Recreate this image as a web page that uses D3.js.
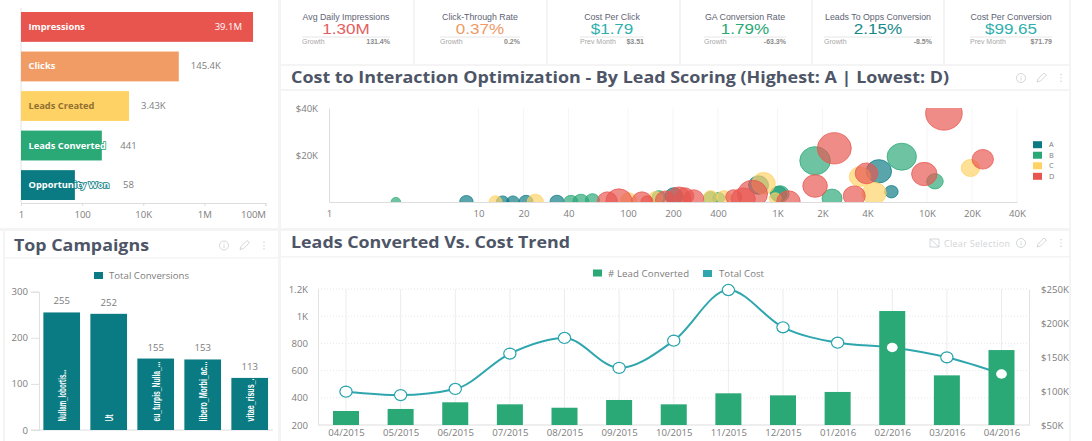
<!DOCTYPE html>
<html>
<head>
<meta charset="utf-8">
<script src="https://cdn.jsdelivr.net/npm/d3@7"></script>
<style>
  html, body { margin: 0; padding: 0; background: #fff; overflow: hidden; }
  svg { display: block; }
  text { font-family: "Open Sans", sans-serif; }
  .tick-label { font-size: 9.6px; fill: #7d7d7d; }
  .panel-title { font-weight: 700; fill: #4d5567; }
  .kpi { font-family: "Liberation Sans", Arial, sans-serif; }
</style>
</head>
<body>
<svg id="chart" width="1092" height="441"></svg>
<script>
//1. Data
const funnelNames = ["Impressions", "Clicks", "Leads Created", "Leads Converted", "Opportunity Won"];
const funnelValues = [39100000, 145400, 3430, 441, 58];
const funnelLabels = ["39.1M", "145.4K", "3.43K", "441", "58"];
const funnelTicks = [1, 100, 10000, 1000000, 100000000];
const funnelTickLabels = ["1", "100", "10K", "1M", "100M"];

const kpiTitles = ["Avg Daily Impressions", "Click-Through Rate", "Cost Per Click", "GA Conversion Rate", "Leads To Opps Conversion", "Cost Per Conversion"];
const kpiValues = ["1.30M", "0.37%", "$1.79", "1.79%", "2.15%", "$99.65"];
const kpiSubLabels = ["Growth", "Growth", "Prev Month", "Growth", "Growth", "Prev Month"];
const kpiSubValues = ["131.4%", "0.2%", "$3.51", "-63.3%", "-8.5%", "$71.79"];

// scatter rows: [interactions, cost, size]
const gradeA = [[8.3, 130, 45], [14.5, 100, 40], [17, 100, 40], [20.8, 100, 49], [33.5, 150, 49], [203, 2550, 81], [747, 7230, 100], [1016, 3400, 69], [4764, 13060, 161], [5781, 4380, 45]];
const gradeB = [[2.8, 100, 22], [41.5, 100, 49], [48.4, 150, 64], [57.8, 800, 49], [161, 2100, 49], [357, 1700, 49], [404, 1700, 36], [1042, 3400, 81], [1784, 17570, 234], [2316, 1570, 100], [6780, 19280, 216], [11300, 8810, 69]];
const gradeC = [[13, 100, 42], [24, 150, 64], [101, 800, 64], [153, 1700, 49], [357, 2100, 49], [437, 2100, 49], [807, 7960, 137], [966, 1570, 36], [3558, 10770, 114], [4433, 3700, 144], [19550, 14470, 86]];
const gradeD = [[72.8, 400, 100], [87, 500, 169], [124, 400, 100], [134, 300, 36], [178, 800, 100], [219, 1700, 144], [240, 2500, 81], [275, 1300, 100], [509, 2100, 64], [590, 1300, 144], [681, 3400, 225], [1184, 200, 137], [1784, 6810, 151], [2399, 22850, 289], [3262, 2550, 121], [3938, 12210, 128], [9594, 11915, 161], [12980, 37740, 335], [23620, 18170, 114]];
const gradeNames = ["A", "B", "C", "D"];
const scatterXTicks = [1, 10, 20, 40, 100, 200, 400, 1000, 2000, 4000, 10000, 20000, 40000];
const scatterXLabels = ["1", "10", "20", "40", "100", "200", "400", "1K", "2K", "4K", "10K", "20K", "40K"];
const scatterYTicks = [20000, 40000];

const campaignNames = ["Nullam_lobortis...", "Ut", "eu_turpis_Nulla_...", "libero_Morbi_ac...", "vitae_risus_..."];
const campaignValues = [255, 252, 155, 153, 113];

const months = ["04/2015", "05/2015", "06/2015", "07/2015", "08/2015", "09/2015", "10/2015", "11/2015", "12/2015", "01/2016", "02/2016", "03/2016", "04/2016"];
const leadsConverted = [303, 318, 367, 352, 327, 384, 352, 433, 418, 443, 1038, 565, 751];
const totalCost = [99000, 94000, 103000, 155000, 178000, 134000, 174000, 248500, 193700, 171000, 164000, 149500, 125000];

//2. Colors
const teal = "#0b7b83", green = "#2aa876", yellow = "#ffd265", red = "#e8554f", orange = "#f19c65", lineTeal = "#2fa6ae";
const funnelColors = [red, orange, yellow, green, teal];
const gradeColors = [teal, green, yellow, red];
const kpiColors = ["#e4605f", "#ef9a66", "#2fb0ae", "#2aa876", "#158a8a", "#2fb0ae"];
const gutter = "#f4f4f5";

const svg = d3.select("#chart");

//3. Panel gutters
const gutters = [
  [281, 64, 789, 2], [281, 89, 789, 2], [0, 228, 1070, 3], [4, 257, 274, 1.5], [281, 256, 789, 1.5],
  [278, 0, 3, 441], [413, 0, 2, 64], [546, 0, 2, 64], [679, 0, 2, 64], [811, 0, 2, 64], [943, 0, 2, 64],
  [1069, 0, 2, 441], [3, 231, 2, 210]
];
svg.append("g").selectAll("rect").data(gutters).join("rect")
  .attr("x", (d) => d[0]).attr("y", (d) => d[1]).attr("width", (d) => d[2]).attr("height", (d) => d[3])
  .attr("fill", gutter);

function styleAxis(g, lineColor) {
  g.selectAll(".domain").attr("stroke", lineColor);
  g.selectAll(".tick line").attr("stroke", lineColor);
  g.selectAll(".tick text").attr("class", "tick-label").style("font-family", '"Open Sans", sans-serif');
}

function icons(x, y) {
  const g = svg.append("g").attr("fill", "none").attr("stroke", "#cfd1d4").attr("stroke-width", 0.9);
  g.append("circle").attr("cx", x).attr("cy", y).attr("r", 4.5);
  g.append("path").attr("d", `M${x} ${y - 2}v0.8M${x} ${y - 0.5}v3`);
  g.append("path").attr("d", `M${x + 16} ${y + 4}l1 -3l6 -6l2.5 2l-6 6z`);
  g.append("path").attr("d", `M${x + 40} ${y - 4}v1.2M${x + 40} ${y - 0.6}v1.2M${x + 40} ${y + 2.8}v1.2`).attr("stroke-width", 1.3);
}

//4. Funnel bars
const funnelX = d3.scaleLog().domain([1, 100000000]).range([21, 265.5]);
const funnelY = d3.scaleBand().domain(funnelNames).range([12, 200]).paddingInner(0.245).paddingOuter(0);

const funnelAxis = svg.append("g").attr("transform", "translate(0,203)")
  .call(d3.axisBottom(funnelX).tickValues(funnelTicks).tickFormat((d, i) => funnelTickLabels[i]).tickSize(3).tickPadding(5));
styleAxis(funnelAxis, "#dcdcdc");
funnelAxis.selectAll(".tick text").filter((d) => d == 100000000).attr("text-anchor", "end");
svg.append("line").attr("x1", 21).attr("x2", 21).attr("y1", 8).attr("y2", 203).attr("stroke", "#e2e2e2");

svg.append("g").selectAll("rect").data(funnelNames).join("rect")
  .attr("x", funnelX(1))
  .attr("y", (d) => funnelY(d))
  .attr("width", (d, i) => funnelX(funnelValues[i]) - funnelX(1))
  .attr("height", funnelY.bandwidth())
  .attr("fill", (d, i) => funnelColors[i]);

svg.append("g").selectAll("text").data(funnelNames).join("text")
  .attr("x", 28.5)
  .attr("y", (d) => funnelY(d) + funnelY.bandwidth() / 2 + 3)
  .attr("font-size", 9.3)
  .attr("font-weight", 700)
  .attr("fill", (d, i) => (i == 2 ? "#8f7030" : "#fff"))
  .attr("stroke", (d, i) => (i >= 3 ? funnelColors[i] : "none"))
  .attr("stroke-width", 1.6)
  .attr("paint-order", "stroke")
  .text((d) => d);

svg.append("g").selectAll("text").data(funnelNames).join("text")
  .attr("y", (d) => funnelY(d) + funnelY.bandwidth() / 2 + 3)
  .attr("font-size", 9.5)
  .attr("fill", (d, i) => (i == 0 ? "#fff" : "#7d7d7d"))
  .text((d, i) => funnelLabels[i])
  .attr("text-anchor", (d, i) => (i == 0 ? "end" : "start"))
  .attr("x", function (d, i) {
    if (i == 0) return funnelX(funnelValues[0]) - 11;
    return Math.max(funnelX(funnelValues[i]) + 12, 128.5 - this.getComputedTextLength() / 2);
  });

//5. KPI tiles
const kpiCenters = [346, 480, 612, 745, 878, 1011];
const kpiHalf = [44, 40, 32, 41, 54, 41];
const kpis = svg.append("g").selectAll("g").data(kpiTitles).join("g").attr("class", "kpi");
kpis.append("text").attr("class", "kpi").attr("x", (d, i) => kpiCenters[i]).attr("y", 20)
  .attr("text-anchor", "middle").attr("font-size", 8.8).attr("fill", "#5d6373").text((d) => d);
// values are drawn a bit wider than tall, like the rest of the dashboard
kpis.append("text").attr("class", "kpi")
  .attr("transform", (d, i) => `translate(${kpiCenters[i]},34) scale(1.2,1)`)
  .attr("text-anchor", "middle").attr("font-size", 14.2).attr("fill", (d, i) => kpiColors[i]).text((d, i) => kpiValues[i]);
kpis.append("line").attr("x1", (d, i) => kpiCenters[i] - kpiHalf[i]).attr("x2", (d, i) => kpiCenters[i] + kpiHalf[i])
  .attr("y1", 37).attr("y2", 37).attr("stroke", "#e6e6e6");
kpis.append("text").attr("class", "kpi").attr("x", (d, i) => kpiCenters[i] - kpiHalf[i]).attr("y", 44)
  .attr("font-size", 7).attr("fill", "#a8a8a8").text((d, i) => kpiSubLabels[i]);
kpis.append("text").attr("class", "kpi").attr("x", (d, i) => kpiCenters[i] + kpiHalf[i]).attr("y", 44)
  .attr("text-anchor", "end").attr("font-size", 7).attr("font-weight", 700).attr("fill", "#8a8a8a").text((d, i) => kpiSubValues[i]);

//6. Scatter
svg.append("text").attr("class", "panel-title").attr("x", 291).attr("y", 83).attr("font-size", 16.5)
  .attr("textLength", 658).attr("lengthAdjust", "spacingAndGlyphs")
  .text("Cost to Interaction Optimization - By Lead Scoring (Highest: A | Lowest: D)");
icons(1021, 78);

const scatterX = d3.scaleLog().domain([1, 40000]).range([329, 1017]);
const scatterY = d3.scaleLinear().domain([0, 40000]).range([202, 108]);
const bubbleR = d3.scaleSqrt().domain([0, 335]).range([0, 18.3]);

svg.append("g").selectAll("line").data(scatterXTicks.slice(1)).join("line")
  .attr("x1", (d) => scatterX(d)).attr("x2", (d) => scatterX(d)).attr("y1", 108).attr("y2", 202)
  .attr("stroke", "#f5f5f5");

const scatterXAxis = svg.append("g").attr("transform", "translate(0,202)")
  .call(d3.axisBottom(scatterX).tickValues(scatterXTicks).tickFormat((d, i) => scatterXLabels[i]).tickSize(0).tickPadding(8));
styleAxis(scatterXAxis, "#dddddd");
const scatterYAxis = svg.append("g").attr("transform", "translate(329,0)")
  .call(d3.axisLeft(scatterY).tickValues(scatterYTicks).tickFormat((d) => `$${d / 1000}K`).tickSize(0).tickPadding(11));
styleAxis(scatterYAxis, "#dddddd");

svg.append("clipPath").attr("id", "scatter-clip").append("rect")
  .attr("x", 329).attr("y", 108).attr("width", 688).attr("height", 94);

const bubbles = svg.append("g").attr("clip-path", "url(#scatter-clip)");
[gradeA, gradeB, gradeC, gradeD].forEach((rows, i) => {
  bubbles.append("g").selectAll("ellipse").data(rows).join("ellipse")
    .attr("cx", (d) => scatterX(d[0]))
    .attr("cy", (d) => scatterY(d[1]))
    .attr("rx", (d) => bubbleR(d[2]))
    .attr("ry", (d) => bubbleR(d[2]) * 0.92)
    .attr("fill", gradeColors[i])
    .attr("fill-opacity", 0.68)
    .attr("stroke", gradeColors[i])
    .attr("stroke-opacity", 0.75);
});

const gradeLegend = d3.scalePoint().domain(gradeNames).range([144.7, 176.3]);
svg.append("g").selectAll("rect").data(gradeNames).join("rect")
  .attr("x", 1033).attr("y", (d) => gradeLegend(d) - 3.5).attr("width", 9).attr("height", 7)
  .attr("fill", (d, i) => gradeColors[i]);
svg.append("g").selectAll("text").data(gradeNames).join("text")
  .attr("x", 1049).attr("y", (d) => gradeLegend(d) + 2.7)
  .attr("font-size", 7.4).attr("fill", "#7d7d7d").text((d) => d);

//7. Top campaigns
svg.append("text").attr("class", "panel-title").attr("x", 14).attr("y", 250.5).attr("font-size", 16.5)
  .attr("textLength", 135).attr("lengthAdjust", "spacingAndGlyphs").text("Top Campaigns");
icons(224, 245.5);

const campaignX = d3.scaleBand().domain(campaignNames).range([38.2, 273.2]).paddingInner(0.22).paddingOuter(0.11);
const campaignY = d3.scaleLinear().domain([0, 300]).range([430, 291.7]);

const campaignYAxis = svg.append("g").attr("transform", "translate(39,0)")
  .call(d3.axisLeft(campaignY).tickValues([0, 100, 200, 300]).tickSize(8).tickPadding(3));
styleAxis(campaignYAxis, "#e0e0e0");
svg.append("line").attr("x1", 31).attr("x2", 273).attr("y1", 430).attr("y2", 430).attr("stroke", "#dedede");

svg.append("rect").attr("x", 94).attr("y", 272).attr("width", 9).attr("height", 7).attr("fill", teal);
svg.append("text").attr("class", "tick-label").attr("x", 109).attr("y", 279).attr("textLength", 80).text("Total Conversions");

svg.append("g").selectAll("rect").data(campaignNames).join("rect")
  .attr("x", (d) => campaignX(d))
  .attr("y", (d, i) => campaignY(campaignValues[i]))
  .attr("width", campaignX.bandwidth())
  .attr("height", (d, i) => campaignY(0) - campaignY(campaignValues[i]))
  .attr("fill", teal);

svg.append("g").selectAll("text").data(campaignNames).join("text")
  .attr("class", "tick-label")
  .attr("x", (d) => campaignX(d) + campaignX.bandwidth() / 2)
  .attr("y", (d, i) => campaignY(campaignValues[i]) - 8)
  .attr("text-anchor", "middle")
  .text((d, i) => campaignValues[i]);

const campaignTextLen = [52, 7, 60, 60, 47];
svg.append("g").selectAll("text").data(campaignNames).join("text")
  .attr("transform", (d) => `translate(${campaignX(d) + campaignX.bandwidth() / 2 + 4},421.5) rotate(-90)`)
  .attr("font-size", 11)
  .attr("font-weight", 700)
  .attr("fill", "#fff")
  .attr("textLength", (d, i) => campaignTextLen[i])
  .attr("lengthAdjust", "spacingAndGlyphs")
  .style("font-family", '"Liberation Sans Narrow", "Liberation Sans", sans-serif')
  .text((d) => d);

//8. Leads vs cost
svg.append("text").attr("class", "panel-title").attr("x", 291).attr("y", 247.5).attr("font-size", 16.5)
  .attr("textLength", 279).attr("lengthAdjust", "spacingAndGlyphs").text("Leads Converted Vs. Cost Trend");
icons(1021, 243);
svg.append("text").attr("x", 944).attr("y", 246.5).attr("font-size", 9).attr("fill", "#d2d4d6").attr("textLength", 66).text("Clear Selection");
svg.append("path").attr("d", "M930 239h9v8h-9zM930 239l9 8").attr("fill", "none").attr("stroke", "#cfd1d4").attr("stroke-width", 0.9);

svg.append("rect").attr("x", 593).attr("y", 269.5).attr("width", 9).attr("height", 7).attr("fill", green);
svg.append("text").attr("class", "tick-label").attr("x", 608).attr("y", 277).attr("textLength", 81).text("# Lead Converted");
svg.append("rect").attr("x", 703).attr("y", 270).attr("width", 9).attr("height", 7).attr("fill", lineTeal);
svg.append("text").attr("class", "tick-label").attr("x", 719).attr("y", 277).attr("textLength", 45).text("Total Cost");

const trendX = d3.scalePoint().domain(months).range([346, 1001.5]);
const leadsY = d3.scaleLinear().domain([200, 1200]).range([425, 289]);
const costY = d3.scaleLinear().domain([50000, 250000]).range([425, 289]);
const leadTicks = [200, 400, 600, 800, 1000, 1200];

// grid
svg.append("g").selectAll("line").data(leadTicks.slice(1)).join("line")
  .attr("x1", 318).attr("x2", 1029).attr("y1", (d) => leadsY(d)).attr("y2", (d) => leadsY(d))
  .attr("stroke", "#e8e8e8").attr("stroke-dasharray", "1 2");
svg.append("g").selectAll("line").data(months).join("line")
  .attr("x1", (d) => trendX(d)).attr("x2", (d) => trendX(d)).attr("y1", 289).attr("y2", 425)
  .attr("stroke", "#ececec");

const trendXAxis = svg.append("g").attr("transform", "translate(0,425)")
  .call(d3.axisBottom(trendX).tickSize(0).tickPadding(4));
styleAxis(trendXAxis, "#dddddd");
trendXAxis.select(".domain").attr("d", "M318 0H1029");
const leadsAxis = svg.append("g").attr("transform", "translate(318,0)")
  .call(d3.axisLeft(leadsY).tickValues(leadTicks).tickFormat((d) => (d >= 1000 ? `${d / 1000}K` : d)).tickSize(0).tickPadding(10));
styleAxis(leadsAxis, "#e2e2e2");
const costAxis = svg.append("g").attr("transform", "translate(1029,0)")
  .call(d3.axisRight(costY).tickValues([50000, 100000, 150000, 200000, 250000]).tickFormat((d) => `$${d / 1000}K`).tickSize(0).tickPadding(12));
styleAxis(costAxis, "#e2e2e2");

// line and marker rings sit under the bars, the white dots stay on top
const costLine = d3.line().x((d, i) => trendX(months[i])).y((d) => costY(d)).curve(d3.curveMonotoneX);
svg.append("path").datum(totalCost).attr("d", costLine).attr("fill", "none").attr("stroke", lineTeal).attr("stroke-width", 2);
svg.append("g").selectAll("ellipse").data(totalCost).join("ellipse")
  .attr("cx", (d, i) => trendX(months[i])).attr("cy", (d) => costY(d))
  .attr("rx", 6).attr("ry", 5.4).attr("fill", "#fff").attr("stroke", lineTeal).attr("stroke-width", 1.5);

svg.append("g").selectAll("rect").data(leadsConverted).join("rect")
  .attr("x", (d, i) => trendX(months[i]) - 13)
  .attr("y", (d) => leadsY(d))
  .attr("width", 26)
  .attr("height", (d) => leadsY(200) - leadsY(d))
  .attr("fill", green);

svg.append("g").selectAll("ellipse").data(totalCost).join("ellipse")
  .attr("cx", (d, i) => trendX(months[i])).attr("cy", (d) => costY(d))
  .attr("rx", 5.4).attr("ry", 4.7).attr("fill", "#fff");
</script>
</body>
</html>
